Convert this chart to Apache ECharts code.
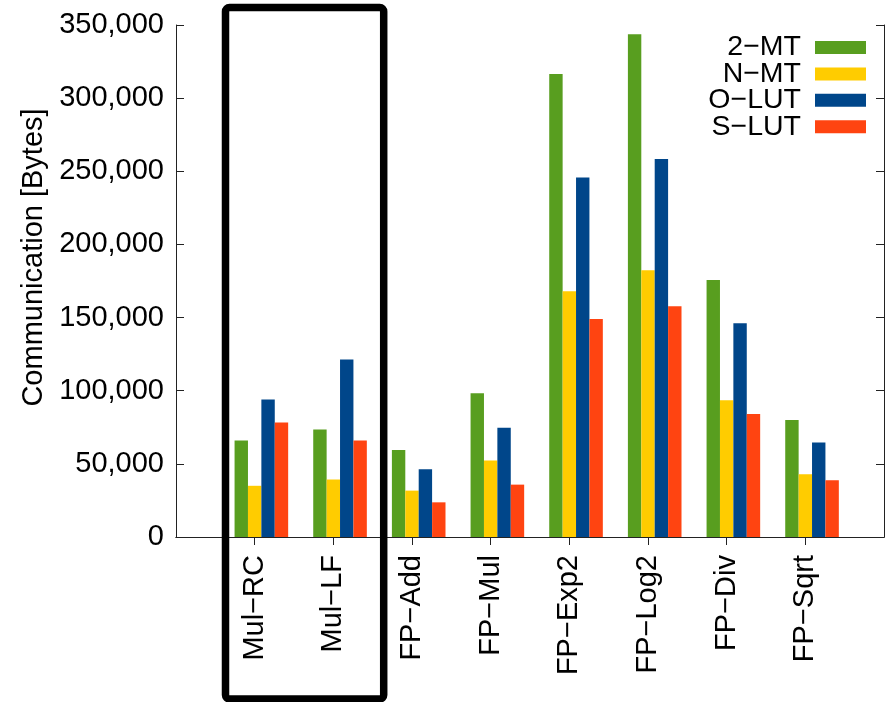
<!DOCTYPE html>
<html>
<head>
<meta charset="utf-8">
<script src="https://cdn.jsdelivr.net/npm/echarts@6/dist/echarts.min.js"></script>
<style>
html,body{margin:0;padding:0;background:#fff;}
#chart{width:887px;height:702px;}
</style>
</head>
<body>
<div id="chart"></div>
<script>
// ---- data ----
const categories = ['Mul\u2212RC', 'Mul\u2212LF', 'FP\u2212Add', 'FP\u2212Mul', 'FP\u2212Exp2', 'FP\u2212Log2', 'FP\u2212Div', 'FP\u2212Sqrt'];
const seriesNames = ['2\u2212MT', 'N\u2212MT', 'O\u2212LUT', 'S\u2212LUT'];
const mt2  = [66000, 73500, 59500, 98300, 316500, 343600, 175600, 80000];
const mtN  = [35000, 39300, 31700, 52300, 168000, 182400, 93500, 42900];
const lutO = [94000, 121300, 46300, 74600, 245800, 258400, 146200, 64600];
const lutS = [78300, 65900, 23700, 35800, 149100, 157800, 84100, 38800];
const yTicks = [0, 50000, 100000, 150000, 200000, 250000, 300000, 350000];

// ---- chart ----
const colors = ['#589E1F', '#FFCC00', '#00468A', '#FF4411'];
const values = [mt2, mtN, lutO, lutS];
// padded category list: empty slot at each end so categories sit at 1..8 of a 0..9 range
const xCats = [''].concat(categories, ['']);
const pad = arr => [null].concat(arr, [null]);
const FONT = 'Liberation Sans, Arial, Helvetica, sans-serif';

const series = [{
  name: '_spacer', type: 'bar', data: pad(categories.map(() => null)),
  barWidth: 13.4, barGap: '0%', silent: true
}];
seriesNames.forEach((n, i) => {
  series.push({
    name: n, type: 'bar', data: pad(values[i]),
    barWidth: 13.4, barGap: '0%',
    itemStyle: { color: colors[i] }
  });
});

const tickFilter = (idx) => idx > 0 && idx < xCats.length - 1;

const chart = echarts.init(document.getElementById('chart'), null, { renderer: 'canvas' });
chart.setOption({
  animation: false,
  backgroundColor: '#fff',
  grid: { left: 176, right: 3, top: 25, bottom: 165, containLabel: false },
  legend: {
    data: seriesNames,
    orient: 'vertical',
    right: 16, top: 28,
    align: 'right',
    icon: 'rect',
    itemWidth: 51, itemHeight: 13,
    itemGap: -2.6,
    selectedMode: false,
    textStyle: { fontFamily: FONT, fontSize: 28.5, color: '#000', lineHeight: 26.7, padding: [0, 9, 0, 0] }
  },
  xAxis: [{
    type: 'category', data: xCats, boundaryGap: false, position: 'bottom',
    axisLine: { lineStyle: { color: '#222', width: 1 } },
    axisTick: { show: true, inside: false, length: 8, interval: tickFilter, lineStyle: { color: '#222' } },
    axisLabel: { interval: 0, rotate: 90, margin: 18, fontFamily: FONT, fontSize: 29, color: '#000' },
    splitLine: { show: false }
  }, {
    type: 'category', data: xCats, boundaryGap: false, position: 'top',
    axisLine: { lineStyle: { color: '#222', width: 1 } },
    axisTick: { show: true, inside: false, length: 8, interval: tickFilter, lineStyle: { color: '#222' } },
    axisLabel: { show: false },
    splitLine: { show: false }
  }],
  yAxis: [{
    type: 'value', min: yTicks[0], max: yTicks[yTicks.length - 1], interval: yTicks[1] - yTicks[0],
    position: 'left',
    name: 'Communication [Bytes]', nameLocation: 'middle', nameGap: 127,
    nameTextStyle: { fontFamily: FONT, fontSize: 29, color: '#000', padding: [0, 0, 0, 47] },
    axisLine: { show: true, lineStyle: { color: '#222', width: 1 } },
    axisTick: { show: true, inside: true, length: 8, lineStyle: { color: '#222' } },
    axisLabel: { margin: 12, fontFamily: FONT, fontSize: 29, color: '#000',
      formatter: v => v.toLocaleString('en-US') },
    splitLine: { show: false }
  }, {
    type: 'value', min: yTicks[0], max: yTicks[yTicks.length - 1], interval: yTicks[1] - yTicks[0],
    position: 'right',
    axisLine: { show: true, lineStyle: { color: '#222', width: 1 } },
    axisTick: { show: true, inside: true, length: 8, lineStyle: { color: '#222' } },
    axisLabel: { show: false },
    splitLine: { show: false }
  }],
  series: series,
  graphic: [{
    type: 'rect', z: 100,
    shape: { x: 225.5, y: 7.5, width: 158.2, height: 691.5, r: 4 },
    style: { fill: 'none', stroke: '#000', lineWidth: 7.5 }
  }]
});
</script>
</body>
</html>
